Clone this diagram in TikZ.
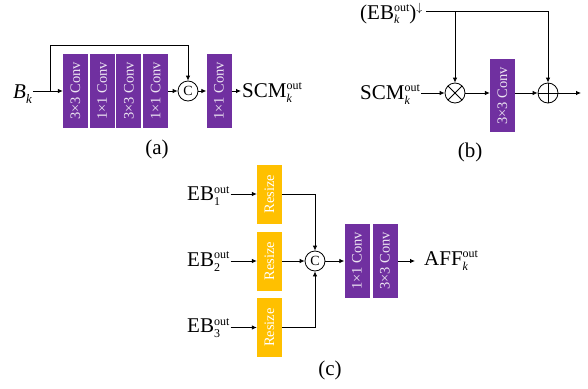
\documentclass[tikz,border=0pt]{standalone}
\usepackage{amsmath}
\usepackage{fontspec}
\setmainfont{Liberation Serif}
\usetikzlibrary{arrows.meta,calc}
\definecolor{convpurple}{HTML}{7030A0}
\definecolor{resizeyellow}{HTML}{FFC000}
\definecolor{boxtext}{HTML}{EDE6F2}
\newcommand{\supsub}[2]{\setbox0\hbox{\fontsize{12}{12}\selectfont #1}\setbox2\hbox{\fontsize{12}{12}\selectfont\itshape #2}\raisebox{7.5pt}{\copy0}\kern-\wd0\raisebox{-5pt}{\copy2}\kern\dimexpr\ifdim\wd0>\wd2 \wd0-\wd2\else 0pt\fi\relax}
\tikzset{
  arr/.style={-{Latex[length=5pt,width=4.5pt]}, line width=0.8pt},
  ln/.style={line width=0.8pt},
  conv/.style={fill=convpurple, minimum width=25pt, minimum height=74pt, inner sep=0pt, text=boxtext, font=\fontsize{14.5}{14.5}\selectfont},
  resize/.style={fill=resizeyellow, minimum width=25pt, minimum height=59pt, inner sep=0pt, text=white, font=\fontsize{14.5}{14.5}\selectfont},
  circ/.style={circle, draw, line width=0.8pt, minimum size=20pt, inner sep=0pt, font=\fontsize{14}{14}\selectfont},
  otimesnode/.style={circ, path picture={\draw[line width=0.8pt] (path picture bounding box.north west) -- (path picture bounding box.south east) (path picture bounding box.north east) -- (path picture bounding box.south west);}},
  oplusnode/.style={circ, path picture={\draw[line width=0.8pt] (path picture bounding box.north) -- (path picture bounding box.south) (path picture bounding box.east) -- (path picture bounding box.west);}},
  lbl/.style={font=\fontsize{21}{21}\selectfont, inner sep=1pt},
}
\begin{document}
\begin{tikzpicture}[x=1pt,y=-1pt]
\useasboundingbox (0,0) rectangle (588,388);
% ---------------- panel (a)
\node[lbl, anchor=base west] (Bk) at (12,98) {\textit{B}\raisebox{-5pt}{\fontsize{13}{13}\selectfont\itshape k}};
\node[conv] (a1) at (75.5,91) {\rotatebox{90}{3×3 Conv}};
\node[conv] (a2) at (102.2,91) {\rotatebox{90}{1×1 Conv}};
\node[conv] (a3) at (128.9,91) {\rotatebox{90}{3×3 Conv}};
\node[conv] (a4) at (155.6,91) {\rotatebox{90}{1×1 Conv}};
\node[circ] (cA) at (188,91) {C};
\node[conv] (a5) at (219,91) {\rotatebox{90}{1×1 Conv}};
\node[lbl, anchor=base west] (scmA) at (241,97) {SCM\supsub{out}{k}};
\node[lbl] (capa) at (157,149) {(a)};
\draw[arr] (Bk.east |- a1.west) -- (a1.west);
\coordinate (sa) at (50,91);
\coordinate (ta) at (50,45);
\draw[arr] (sa) -- (ta) -| (cA.north);
\draw[arr] (a4.east) -- (cA.west);
\draw[arr] (cA.east) -- (a5.west);
\draw[arr] (a5.east) -- (a5.east -| scmA.west);
% ---------------- panel (b)
\node[lbl, anchor=base west] (ebk) at (359,19) {(EB\supsub{out}{k})\raisebox{7pt}{\fontsize{12}{12}\selectfont$\downarrow$}};
\node[lbl, anchor=base west] (scmB) at (359,99) {SCM\supsub{out}{k}};
\node[otimesnode] (ot) at (455,93) {};
\node[conv, minimum height=73pt] (b1) at (502.5,95.8) {\rotatebox{90}{3×3 Conv}};
\node[oplusnode] (op) at (548,93) {};
\coordinate (outb) at (581,93);
\coordinate (eL) at (426,11);
\coordinate (eM) at (455,11);
\node[lbl] (capb) at (470,152) {(b)};
\draw[ln] (eL) -- (eM);
\draw[arr] (eM) -| (op.north);
\draw[arr] (eM) -- (ot.north);
\draw[arr] (scmB.east |- ot.west) -- (ot.west);
\draw[arr] (ot.east) -- (ot.east -| b1.west);
\draw[arr] (ot.east -| b1.east) -- (op.west);
\draw[arr] (op.east) -- (outb);
% ---------------- panel (c)
\node[lbl, anchor=base west] (eb1) at (186,200.5) {EB\supsub{out}{\upshape 1}};
\node[lbl, anchor=base west] (eb2) at (186,266) {EB\supsub{out}{\upshape 2}};
\node[lbl, anchor=base west] (eb3) at (186,332.5) {EB\supsub{out}{\upshape 3}};
\node[resize] (r1) at (269.5,194) {\rotatebox{90}{Resize}};
\node[resize] (r2) at (269.5,261) {\rotatebox{90}{Resize}};
\node[resize] (r3) at (269.5,327.5) {\rotatebox{90}{Resize}};
\node[circ] (cC) at (315,261) {C};
\node[conv] (c1) at (357,261) {\rotatebox{90}{1×1 Conv}};
\node[conv] (c2) at (385,261) {\rotatebox{90}{3×3 Conv}};
\node[lbl, anchor=base west, inner xsep=9pt] (aff) at (415,265) {AFF\supsub{out}{k}};
\node[lbl] (capc) at (330,370) {(c)};
\draw[arr] (eb1.east |- r1.west) -- (r1.west);
\draw[arr] (eb2.east |- r2.west) -- (r2.west);
\draw[arr] (eb3.east |- r3.west) -- (r3.west);
\draw[arr] (r1.east) -| (cC.north);
\draw[arr] (r2.east) -- (cC.west);
\draw[arr] (r3.east) -| (cC.south);
\draw[arr] (cC.east) -- (c1.west);
\draw[arr] (c2.east) -- (c2.east -| aff.west);
\end{tikzpicture}
\end{document}
